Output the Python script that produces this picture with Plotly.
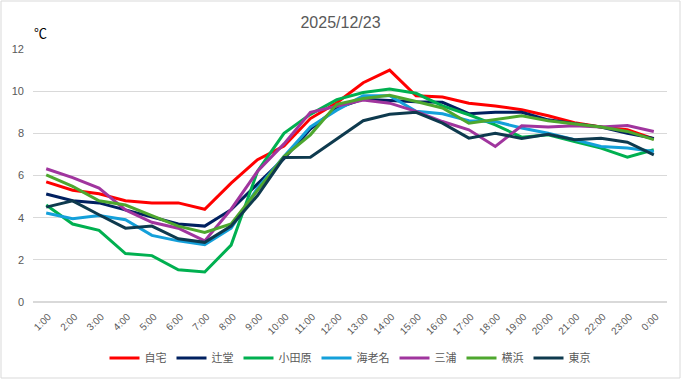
import plotly.graph_objects as go

hours = ["1:00", "2:00", "3:00", "4:00", "5:00", "6:00", "7:00", "8:00", "9:00", "10:00",
         "11:00", "12:00", "13:00", "14:00", "15:00", "16:00", "17:00", "18:00", "19:00",
         "20:00", "21:00", "22:00", "23:00", "0:00"]

jitaku = [5.7, 5.3, 5.13, 4.8, 4.7, 4.7, 4.4, 5.64, 6.75, 7.4, 8.7, 9.45, 10.4, 11.0, 9.78, 9.72,
          9.43, 9.3, 9.12, 8.83, 8.5, 8.3, 8.17, 7.73]
tsujido = [5.12, 4.8, 4.7, 4.37, 4.06, 3.7, 3.6, 4.38, 5.6, 6.8, 8.2, 9.2, 9.62, 9.55, 9.5, 9.47,
           8.93, 9.0, 9.0, 8.64, 8.45, 8.3, 8.0, 7.76]
odawara = [4.6, 3.7, 3.4, 2.3, 2.2, 1.53, 1.42, 2.7, 6.2, 8.0, 8.9, 9.6, 9.94, 10.1, 9.9, 9.3,
           8.88, 8.4, 7.82, 7.93, 7.61, 7.3, 6.87, 7.22]
ebina = [4.22, 3.95, 4.1, 3.9, 3.16, 2.9, 2.72, 3.5, 5.4, 6.9, 8.3, 9.1, 9.78, 9.78, 9.05, 8.93,
         8.6, 8.56, 8.25, 8.0, 7.7, 7.38, 7.3, 7.14]
miura = [6.32, 5.9, 5.4, 4.37, 3.78, 3.5, 2.9, 4.4, 6.2, 7.5, 9.0, 9.3, 9.58, 9.43, 9.04, 8.56,
         8.17, 7.38, 8.36, 8.3, 8.36, 8.3, 8.37, 8.09]
yokohama = [6.03, 5.48, 4.8, 4.6, 4.1, 3.6, 3.3, 3.7, 5.3, 6.9, 7.93, 9.38, 9.65, 9.8, 9.51, 9.2,
            8.48, 8.67, 8.83, 8.6, 8.45, 8.3, 8.09, 7.7]
tokyo = [4.5, 4.8, 4.14, 3.5, 3.6, 3.0, 2.83, 3.6, 5.05, 6.85, 6.87, 7.75, 8.6, 8.9, 9.0, 8.48,
         7.77, 8.0, 7.76, 7.96, 7.7, 7.77, 7.58, 6.98]

series_names = ["自宅", "辻堂", "小田原", "海老名", "三浦", "横浜", "東京"]
series_values = [jitaku, tsujido, odawara, ebina, miura, yokohama, tokyo]
colors = ["#FF0000", "#002060", "#00B050", "#14A0DA", "#A0359E", "#4EA72E", "#0E3A4E"]

y_ticks = [0, 2, 4, 6, 8, 10, 12]

fig = go.Figure()
for name, vals, col in zip(series_names, series_values, colors):
    fig.add_trace(go.Scatter(x=hours, y=vals, name=name, mode="lines",
                             line=dict(color=col, width=3)))

W, H = 681, 379
ml, mr, mt, mb = 33, 14, 49, 77
pw, ph = W - ml - mr, H - mt - mb

num_font = "Liberation Sans, Arial, sans-serif"

fig.update_layout(
    width=W, height=H,
    margin=dict(l=ml, r=mr, t=mt, b=mb, autoexpand=False),
    paper_bgcolor="white", plot_bgcolor="white",
    font=dict(family="Noto Sans CJK JP, Liberation Sans, sans-serif", color="#595959"),
    title=dict(text="2025/12/23", x=0.5, xanchor="center", y=1 - 22 / H, yanchor="middle",
               font=dict(size=16, color="#595959", family=num_font)),
    xaxis=dict(type="category", range=[-0.5, len(hours) - 0.5], tickangle=-45,
               tickfont=dict(size=10, color="#595959", family=num_font),
               showgrid=False, showline=False, ticks="", zeroline=False, automargin=False,
               ticklabelshift=2, ticklabelstandoff=6),
    yaxis=dict(range=[0, 12], tickvals=y_ticks, tickfont=dict(size=11, color="#595959", family=num_font),
               gridcolor="#D9D9D9", gridwidth=1, zeroline=True, zerolinecolor="#D9D9D9",
               showline=False, ticks="", ticklabelstandoff=8, automargin=False),
    legend=dict(orientation="h", x=0.5, xanchor="center", y=-(358 - mt - ph) / ph,
                yanchor="middle", font=dict(size=11, color="#595959"),
                itemwidth=30, tracegroupgap=0),
    showlegend=True,
)

fig.add_annotation(text="℃", xref="paper", yref="paper", x=(40 - ml) / pw, y=1 + (mt - 33) / ph,
                   xanchor="center", yanchor="middle", showarrow=False,
                   font=dict(size=13, color="#000000"))

fig.add_shape(type="rect", xref="paper", yref="paper",
              x0=-(ml - 1) / pw, x1=1 + (mr - 1) / pw, y0=-(mb - 1) / ph, y1=1 + (mt - 1) / ph,
              line=dict(color="#D9D9D9", width=1), layer="below")

fig.write_html("out.html", post_script="document.body.style.margin='0';",
               config={"displayModeBar": False})
